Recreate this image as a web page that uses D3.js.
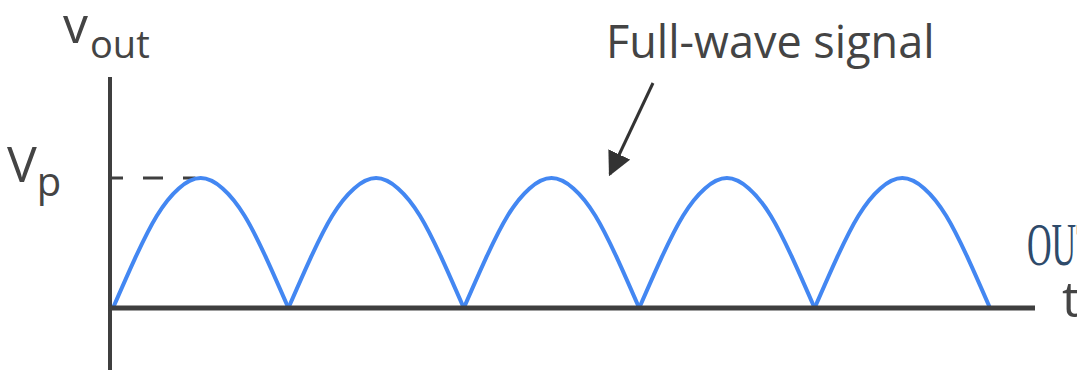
<!DOCTYPE html>
<html>
<head>
<meta charset="utf-8">
<script src="https://cdn.jsdelivr.net/npm/d3@7"></script>
<style>
  html, body { margin: 0; padding: 0; background: #fff; }
  svg { display: block; }
  text { font-family: "Open Sans", "Noto Sans", sans-serif; fill: #444; }
</style>
</head>
<body>
<div id="wave"></div>
<script>
// time in half-periods (zeros at each integer)
var times = [0, 0.125, 0.25, 0.375, 0.5, 0.625, 0.75, 0.875,
             1, 1.125, 1.25, 1.375, 1.5, 1.625, 1.75, 1.875,
             2, 2.125, 2.25, 2.375, 2.5, 2.625, 2.75, 2.875,
             3, 3.125, 3.25, 3.375, 3.5, 3.625, 3.75, 3.875,
             4, 4.125, 4.25, 4.375, 4.5, 4.625, 4.75, 4.875, 5];
// output voltage as a fraction of Vp
var vout = [0, 0.38, 0.71, 0.92, 1, 0.92, 0.71, 0.38,
            0, 0.38, 0.71, 0.92, 1, 0.92, 0.71, 0.38,
            0, 0.38, 0.71, 0.92, 1, 0.92, 0.71, 0.38,
            0, 0.38, 0.71, 0.92, 1, 0.92, 0.71, 0.38,
            0, 0.38, 0.71, 0.92, 1, 0.92, 0.71, 0.38, 0];
var yTicks = [1];
var yTickLabels = ["V", "p"];
var yTitle = ["v", "out"];
var xTitle = "t";
var callout = "Full-wave signal";

var svg = d3.select("#wave")
    .append("svg")
    .attr("width", 1077)
    .attr("height", 370);

var x = d3.scaleLinear().domain([0, 5]).range([113, 990]);
var y = d3.scaleLinear().domain([0, 1]).range([308, 178]);

var axisColor = "#3f3f3f";

// split the series into arches at each interior zero so the cusps stay sharp
var points = times.map(function(t, i) { return {t: t, v: vout[i]}; });
var arches = [];
var cur = [];
points.forEach(function(p, i) {
  cur.push(p);
  if (p.v === 0 && i > 0) { arches.push(cur); cur = [p]; }
});

var line = d3.line()
    .x(function(d) { return x(d.t); })
    .y(function(d) { return y(d.v); })
    .curve(d3.curveNatural);

// dashed reference line at Vp
svg.append("line")
    .attr("x1", 110)
    .attr("x2", x(0.47))
    .attr("y1", y(yTicks[0]))
    .attr("y2", y(yTicks[0]))
    .attr("stroke", axisColor)
    .attr("stroke-width", 3)
    .attr("stroke-dasharray", "13 20 20 20");

svg.selectAll(".arch")
    .data(arches)
  .enter().append("path")
    .attr("class", "arch")
    .attr("d", line)
    .attr("fill", "none")
    .attr("stroke", "#4387f2")
    .attr("stroke-width", 4)
    .attr("stroke-linejoin", "round");

// axes
svg.append("line")
    .attr("x1", 110).attr("x2", 110)
    .attr("y1", 77).attr("y2", 370)
    .attr("stroke", axisColor)
    .attr("stroke-width", 4);

svg.append("line")
    .attr("x1", 108).attr("x2", 1035)
    .attr("y1", y(0)).attr("y2", y(0))
    .attr("stroke", axisColor)
    .attr("stroke-width", 5);

// axis labels
var vp = svg.append("text")
    .attr("x", 7)
    .attr("y", 182)
    .style("font-size", "50px");
vp.append("tspan").text(yTickLabels[0]);
vp.append("tspan").attr("dy", 14).style("font-size", "40px").text(yTickLabels[1]);

var vo = svg.append("text")
    .attr("x", 63)
    .attr("y", 43)
    .style("font-size", "50px");
vo.append("tspan").text(yTitle[0]);
vo.append("tspan").attr("dy", 15).attr("dx", 2).style("font-size", "38px").text(yTitle[1]);

svg.append("text")
    .attr("x", 1062)
    .attr("y", 317)
    .style("font-size", "50px")
    .text(xTitle);

// callout
svg.append("defs").append("marker")
    .attr("id", "head")
    .attr("viewBox", "0 0 10 10")
    .attr("refX", 9)
    .attr("refY", 5)
    .attr("markerWidth", 8)
    .attr("markerHeight", 8)
    .attr("markerUnits", "strokeWidth")
    .attr("orient", "auto")
  .append("path")
    .attr("d", "M0,0L10,5L0,10z")
    .attr("fill", "#333");

svg.append("line")
    .attr("x1", 653).attr("y1", 83)
    .attr("x2", 610).attr("y2", 174)
    .attr("stroke", "#333")
    .attr("stroke-width", 3)
    .attr("marker-end", "url(#head)");

svg.append("text")
    .attr("x", 606)
    .attr("y", 58)
    .style("font-size", "45px")
    .text(callout);

// overlapping heading cut off by the right edge (condensed serif)
svg.append("text")
    .attr("transform", "translate(1027,265) scale(0.55,1)")
    .style("font-family", "'Liberation Serif', serif")
    .style("font-size", "62px")
    .style("fill", "#2e4a6a")
    .text("OUTPUT");
</script>
</body>
</html>
